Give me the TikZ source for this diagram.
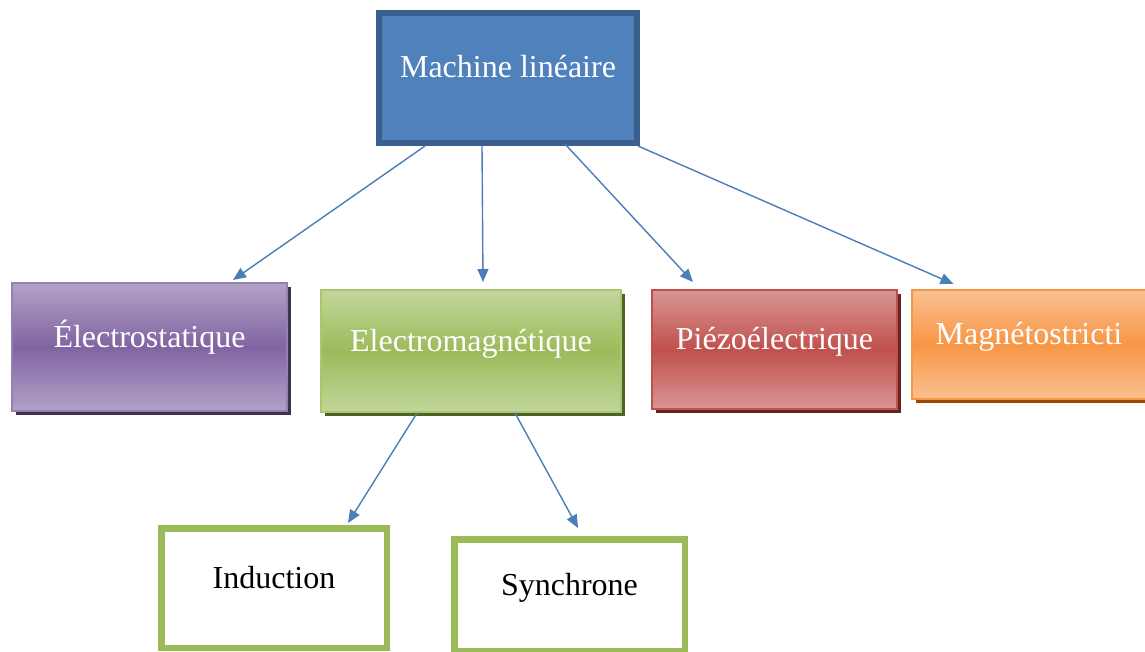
\documentclass[tikz,border=0pt]{standalone}
\usepackage{fontspec}
\setmainfont{Liberation Serif}
\usetikzlibrary{arrows.meta,shadows}
\definecolor{mfill}{HTML}{4F81BD}
\definecolor{mline}{HTML}{3A5F8D}
\definecolor{arrowc}{HTML}{4A7EBB}
\definecolor{pl}{HTML}{B3A2C7}\definecolor{pm}{HTML}{8064A2}\definecolor{pd}{HTML}{3F3151}\definecolor{pb}{HTML}{9580B5}
\definecolor{gl}{HTML}{C3D69B}\definecolor{gm}{HTML}{9BBB59}\definecolor{gd}{HTML}{4F6228}\definecolor{gb}{HTML}{A9C86E}
\definecolor{rl}{HTML}{D99694}\definecolor{rm}{HTML}{C0504D}\definecolor{rd}{HTML}{632523}\definecolor{rb}{HTML}{C0504D}
\definecolor{ol}{HTML}{FAC090}\definecolor{om}{HTML}{F79646}\definecolor{od}{HTML}{984807}\definecolor{ob}{HTML}{F79646}
\tikzset{
  txt/.style={font=\fontsize{32}{38}\selectfont, text height=20pt, text depth=20pt, inner sep=0pt, align=center},
  mainbox/.style={txt, draw=mline, line width=6pt, fill=mfill, text=white},
  colbox/.style n args={4}{txt, draw=#4, line width=2pt, top color=#1, bottom color=#1, middle color=#2, text=white,
     general shadow={fill=#3, shadow xshift=4pt, shadow yshift=-4pt}},
  whitebox/.style={txt, draw=gm, line width=6.5pt, fill=white, text=black},
  conn/.style={draw=arrowc, line width=1.4pt, -{Triangle[length=13pt,width=11pt]}}
}
\begin{document}
\begin{tikzpicture}[x=1pt,y=-1pt]
\clip (0,0) rectangle (1145,652);
\fill[white] (0,0) rectangle (1145,652);
\node[mainbox, minimum width=258pt, minimum height=130pt] (m) at (508,78) {Machine linéaire};
\node[colbox={pl}{pm}{pd}{pb}, minimum width=275pt, minimum height=128pt] (e) at (149.5,347) {Électrostatique};
\node[colbox={gl}{gm}{gd}{gb}, minimum width=300pt, minimum height=122pt] (em) at (471,351) {Electromagnétique};
\node[colbox={rl}{rm}{rd}{rb}, minimum width=245pt, minimum height=119pt] (p) at (774.5,349.5) {Piézoélectrique};
\node[colbox={ol}{om}{od}{ob}, minimum width=234pt, minimum height=109pt] (g) at (1029,344.5) {Magnétostricti};
\node[whitebox, minimum width=225.5pt, minimum height=119.5pt] (i) at (274,588) {Induction};
\node[whitebox, minimum width=230.5pt, minimum height=111.5pt] (s) at (569.5,595) {Synchrone};
\draw[conn] ([xshift=-83pt]m.south) -- ([xshift=83.5pt,yshift=2pt]e.north);
\draw[conn] ([xshift=-26pt]m.south) -- ([xshift=12pt,yshift=7pt]em.north);
\draw[conn] ([xshift=57pt,yshift=2pt]m.south) -- ([xshift=-81.5pt,yshift=7pt]p.north);
\draw[conn] ([xshift=130pt]m.south) -- ([xshift=-75.5pt,yshift=5pt]g.north);
\draw[conn] ([xshift=-54pt]em.south) -- ([xshift=74pt,yshift=2pt]i.north);
\draw[conn] ([xshift=44pt]em.south) -- ([xshift=8.5pt,yshift=8pt]s.north);
\end{tikzpicture}
\end{document}
